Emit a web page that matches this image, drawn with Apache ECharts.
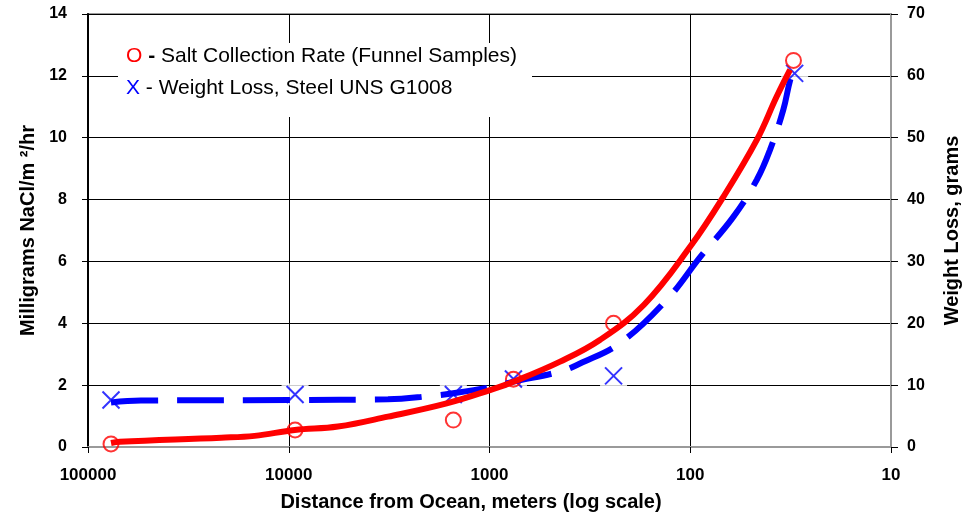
<!DOCTYPE html>
<html>
<head>
<meta charset="utf-8">
<script src="https://cdn.jsdelivr.net/npm/echarts@6/dist/echarts.min.js"></script>
<style>
html, body { margin: 0; padding: 0; background: #fff; }
#chart { width: 972px; height: 517px; }
</style>
</head>
<body>
<div id="chart"></div>
<script>
// measured samples (distance in meters)
var saltDist = [76800, 9300, 1514, 760, 241, 30.6];
var saltRate = [0.1, 0.55, 0.87, 2.19, 4.0, 12.5];
var lossDist = [76800, 9300, 1514, 760, 241, 30.2];
var lossGrams = [7.6, 8.5, 8.5, 11.0, 11.5, 60.4];

// fitted curves
var saltFitDist = [76800, 69500, 21700, 14800, 9330, 5690, 3205, 1634, 995, 760, 445, 282, 170, 100, 68.4, 46.6, 37.1, 31.8];
var saltFitRate = [0.13, 0.17, 0.30, 0.36, 0.55, 0.66, 0.98, 1.41, 1.84, 2.11, 2.76, 3.46, 4.6, 6.48, 8.09, 9.93, 11.33, 12.2];
var lossFitDist = [76800, 54500, 9860, 3205, 1977, 1520, 995, 760, 445, 354, 224, 131, 88.7, 61.0, 46.6, 40.1, 34.4, 31.8, 30.6];
var lossFitGrams = [7.2, 7.5, 7.6, 7.7, 8.24, 8.68, 9.65, 10.56, 12.2, 13.5, 16.8, 23.8, 30.8, 37.2, 43.2, 48.0, 54.5, 59.3, 60.5];

var xTicks = [100000, 10000, 1000, 100, 10];

function pairs(xs, ys) {
  var out = [];
  for (var i = 0; i < xs.length; i++) out.push([xs[i], ys[i]]);
  return out;
}

var FONT = '"Liberation Sans", Arial, sans-serif';
var chart = echarts.init(document.getElementById('chart'));

chart.setOption({
  animation: false,
  grid: {
    left: 88, right: 81, top: 14, bottom: 70,
    show: true, borderColor: '#9a9a9a', borderWidth: 2
  },
  xAxis: {
    type: 'log',
    logBase: 10,
    min: 10,
    max: 100000,
    inverse: true,
    name: 'Distance from Ocean, meters (log scale)',
    nameLocation: 'middle',
    nameGap: 45,
    nameTextStyle: { fontFamily: FONT, fontWeight: 'bold', fontSize: 20, color: '#000', padding: [0, 37, 0, 0] },
    axisLine: { lineStyle: { color: '#9a9a9a', width: 2 } },
    axisTick: { show: true, length: 6, lineStyle: { color: '#000' } },
    minorTick: { show: false },
    splitLine: { show: true, lineStyle: { color: '#000', width: 1 } },
    axisLabel: {
      margin: 20, fontFamily: FONT, fontWeight: 'bold', fontSize: 17, color: '#000',
      formatter: function (v) { return xTicks.indexOf(v) >= 0 ? String(v) : ''; }
    }
  },
  yAxis: [{
    type: 'value',
    min: 0, max: 14, interval: 2,
    position: 'left',
    name: 'Milligrams NaCl/m \u00b2/hr',
    nameLocation: 'middle',
    nameGap: 50,
    nameTextStyle: { fontFamily: FONT, fontWeight: 'bold', fontSize: 20, color: '#000' },
    axisLine: { show: true, lineStyle: { color: '#000', width: 2 } },
    axisTick: { show: true, length: 6, lineStyle: { color: '#000' } },
    splitLine: { show: true, lineStyle: { color: '#000', width: 1 } },
    axisLabel: { margin: 21, fontFamily: FONT, fontWeight: 'bold', fontSize: 16, color: '#000' }
  }, {
    type: 'value',
    min: 0, max: 70, interval: 10,
    position: 'right',
    name: 'Weight Loss, grams',
    nameLocation: 'middle',
    nameGap: 51,
    nameTextStyle: { fontFamily: FONT, fontWeight: 'bold', fontSize: 20, color: '#000' },
    axisLine: { show: true, lineStyle: { color: '#9a9a9a', width: 2 } },
    axisTick: { show: true, length: 7, lineStyle: { color: '#000' } },
    splitLine: { show: false },
    axisLabel: { margin: 16, fontFamily: FONT, fontWeight: 'bold', fontSize: 16, color: '#000' }
  }],
  graphic: [{
    type: 'rect',
    left: 118, top: 43,
    shape: { width: 414, height: 74 },
    style: { fill: '#fff' },
    z: 50
  }, {
    type: 'text',
    left: 126, top: 46,
    z: 51,
    style: {
      text: '{o|O}{d| - }{t|Salt Collection Rate (Funnel Samples)}',
      rich: {
        o: { fontFamily: FONT, fontSize: 21, fill: '#ff0000' },
        d: { fontFamily: FONT, fontSize: 21, fontWeight: 'bold', fill: '#000' },
        t: { fontFamily: FONT, fontSize: 21, fill: '#000' }
      }
    }
  }, {
    type: 'text',
    left: 126, top: 78,
    z: 51,
    style: {
      text: '{x|X}{t| - Weight Loss, Steel UNS G1008}',
      rich: {
        x: { fontFamily: FONT, fontSize: 21, fill: '#0000ff' },
        t: { fontFamily: FONT, fontSize: 21, fill: '#000' }
      }
    }
  }],
  series: [{
    // white boxes behind the X marks
    type: 'scatter',
    yAxisIndex: 1,
    z: 1,
    silent: true,
    symbol: 'rect',
    symbolSize: [27, 22],
    itemStyle: { color: '#fff' },
    data: pairs(lossDist, lossGrams)
  }, {
    type: 'line',
    yAxisIndex: 1,
    smooth: 0.4,
    showSymbol: false,
    lineStyle: { color: '#0000ff', width: 6, type: [47, 19], cap: 'butt' },
    data: pairs(lossFitDist, lossFitGrams)
  }, {
    type: 'scatter',
    yAxisIndex: 1,
    symbol: 'path://M0,0L10,10M10,0L0,10',
    symbolSize: 17,
    itemStyle: { color: 'transparent', borderColor: '#0000ff', borderWidth: 2 },
    data: pairs(lossDist, lossGrams)
  }, {
    type: 'line',
    yAxisIndex: 0,
    smooth: 0.4,
    showSymbol: false,
    lineStyle: { color: '#ff0000', width: 6 },
    data: pairs(saltFitDist, saltFitRate)
  }, {
    type: 'scatter',
    yAxisIndex: 0,
    symbol: 'circle',
    symbolSize: 15,
    itemStyle: { color: 'transparent', borderColor: '#ff0000', borderWidth: 2 },
    data: pairs(saltDist, saltRate)
  }]
});
</script>
</body>
</html>
